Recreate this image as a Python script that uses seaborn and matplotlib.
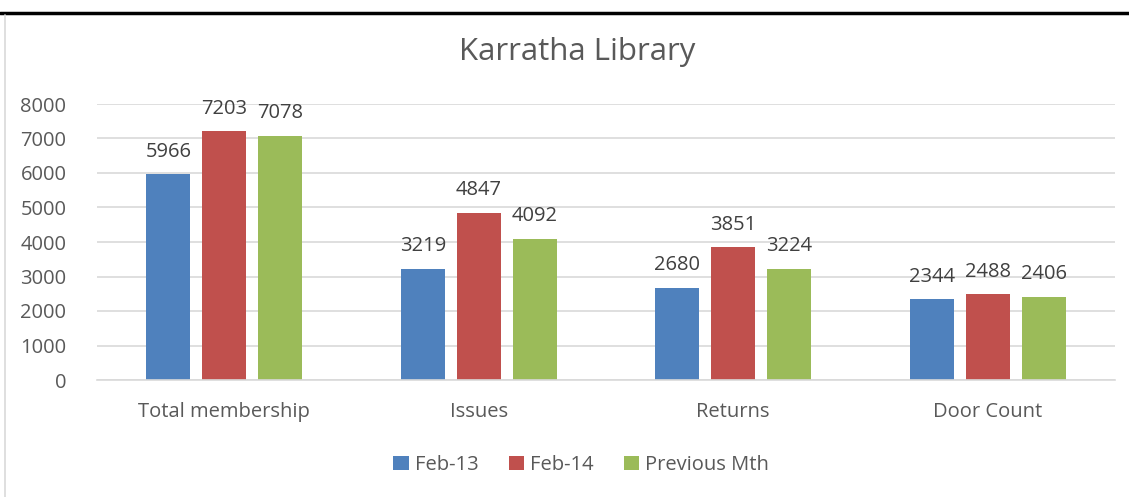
import matplotlib
matplotlib.use("Agg")
import matplotlib.pyplot as plt
import seaborn as sns
import pandas as pd
from matplotlib.lines import Line2D
from matplotlib.patches import Patch

categories = ["Total membership", "Issues", "Returns", "Door Count"]
series_names = ["Feb-13", "Feb-14", "Previous Mth"]
feb13 = [5966, 3219, 2680, 2344]
feb14 = [7203, 4847, 3851, 2488]
prev_mth = [7078, 4092, 3224, 2406]
yticks = [0, 1000, 2000, 3000, 4000, 5000, 6000, 7000, 8000]

colors = ["#4F81BD", "#C0504D", "#9BBB59"]
text_color = "#595959"

rows = []
for name, vals in zip(series_names, [feb13, feb14, prev_mth]):
    for c, v in zip(categories, vals):
        rows.append({"Category": c, "Series": name, "Value": v})
df = pd.DataFrame(rows)

sns.set_theme(style="white")
plt.rcParams['font.family'] = ['Open Sans', 'DejaVu Sans']

fig = plt.figure(figsize=(11.29, 4.97), dpi=100)
ax = fig.add_axes([97/1129, 1-380/497, (1115-97)/1129, (380-104)/497])

sns.barplot(data=df, x="Category", y="Value", hue="Series", order=categories,
            hue_order=series_names, palette=colors, width=0.66, gap=0.214,
            saturation=1, ax=ax, legend=False, linewidth=0, edgecolor="none")

ax.set_ylim(0, 8000)
ax.set_xlim(-0.5, 3.5)
ax.set_yticks(yticks)
ax.set_yticklabels([str(t) for t in yticks])
ax.grid(axis="y", color="#D9D9D9", linewidth=1.2)
ax.set_axisbelow(True)
for s in ["top", "right", "left"]:
    ax.spines[s].set_visible(False)
ax.spines["bottom"].set_color("#D9D9D9")
ax.spines["bottom"].set_linewidth(1.2)
ax.set_xlabel("")
ax.set_ylabel("")
ax.tick_params(axis="both", length=0, labelsize=14.5, labelcolor=text_color)
ax.tick_params(axis="y", pad=22)
ax.tick_params(axis="x", pad=16)

for cont in ax.containers:
    ax.bar_label(cont, labels=[f"{int(v)}" for v in cont.datavalues],
                 padding=9, fontsize=14.5, color="#404040")

fig.text(577/1129, 1-52/497, "Karratha Library", ha="center", va="center",
         fontsize=22.5, color=text_color)

handles = [Patch(facecolor=c, edgecolor="none") for c in colors]
fig.legend(handles, series_names, loc="center", bbox_to_anchor=(581/1129, 1-465/497),
           ncol=3, frameon=False, fontsize=14.5, labelcolor=text_color,
           handlelength=0.75, handleheight=0.75, handletextpad=0.3, columnspacing=1.5)

# surrounding page elements: table border above and chart frame on the left
fig.add_artist(Line2D([0, 1], [1-13/497, 1-13/497], color="black", linewidth=2.5,
                      transform=fig.transFigure))
fig.add_artist(Line2D([4.5/1129, 4.5/1129], [0, 1-15/497], color="#D9D9D9", linewidth=1.2,
                      transform=fig.transFigure))

fig.savefig("out.png", dpi=100)
